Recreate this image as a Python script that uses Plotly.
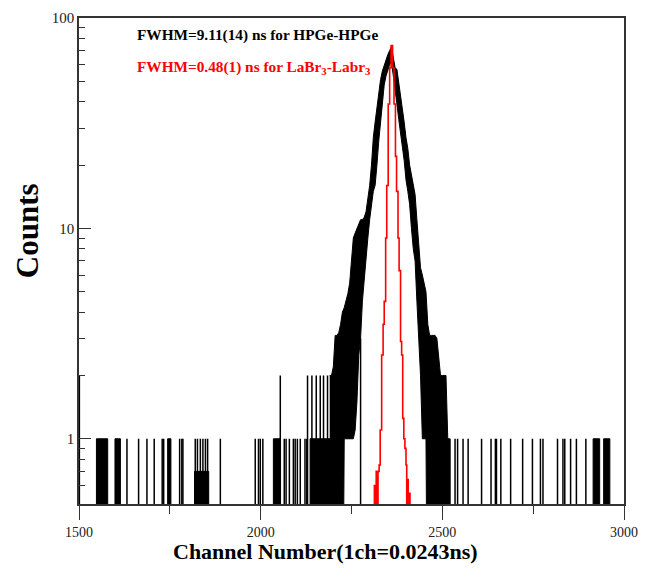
import plotly.graph_objects as go

# ---------------- data ----------------
# HPGe-HPGe (black) coincidence-time peak: lower / upper envelope of the
# fluctuating histogram, sampled every 5 channels
peak_ch = [2190, 2195, 2200, 2205, 2210, 2215, 2220, 2225, 2230, 2235,
           2240, 2245, 2250, 2255, 2260, 2265, 2270, 2275, 2280, 2285,
           2290, 2295, 2300, 2305, 2310, 2315, 2320, 2325, 2330, 2335,
           2340, 2345, 2350, 2355, 2360, 2365, 2370, 2375, 2380, 2385,
           2390, 2395, 2400, 2405, 2410, 2415, 2420, 2425, 2430, 2435,
           2440, 2445, 2450, 2455, 2460, 2465, 2470, 2475, 2480, 2485,
           2490, 2495, 2500, 2505, 2510, 2515, 2520]
peak_hi = [2, 2, 2.2, 3.1, 3.1, 3.2, 3.5, 4, 4.2, 4.5,
           4.9, 5.5, 7, 9, 9.5, 10, 10.5, 11, 11, 11.3,
           12, 14, 16, 20, 27, 32, 38, 45, 51, 56,
           60, 64, 67, 70, 73, 65, 58, 57, 50, 43,
           37, 32, 27, 24, 20, 18, 16, 14.5, 11, 8,
           6.5, 6, 5.5, 5, 3.5, 3.1, 3.1, 3.1, 3.1, 3,
           2.5, 2, 2, 2, 2, 1, 1]
peak_lo = [0, 0, 0, 0, 0, 0, 0, 0, 1, 1,
           1, 1, 1, 1, 1.1, 1.5, 2.5, 3, 4.5, 5.5,
           7, 9, 11, 13, 15, 16, 20, 26, 32, 40,
           48, 53, 57, 60, 62, 55, 45, 39, 33, 28,
           24, 21, 17, 15, 13, 10, 8, 7, 4.5, 3.3,
           2, 1, 1, 1, 0, 0, 0, 0, 0, 0,
           0, 0, 0, 0, 0, 0, 0]

# isolated background channels (black)
noise_ch = [1501, 1632, 1664, 1687, 1707, 1729, 1733, 1777, 1783, 1786,
            1820, 1826, 1834, 1841, 1848, 1854, 1889, 1985, 1994, 1999,
            2006, 2054, 2065, 2070, 2079, 2090, 2095, 2101, 2109, 2122,
            2127, 2129, 2141, 2153, 2164, 2173, 2184, 2275,
            2521, 2535, 2542, 2557, 2571, 2608, 2634, 2646, 2649, 2661,
            2688, 2721, 2748, 2770, 2777, 2817, 2832, 2837, 2853, 2869, 2895]
noise_cnt = [2, 1, 1, 1, 1, 1, 1, 1, 1, 1,
             1, 1, 1, 1, 1, 1, 1, 1, 1, 1,
             1, 2, 1, 1, 1, 1, 1, 1, 1, 1,
             1, 2, 2, 2, 2, 2, 2, 3,
             1, 1, 1, 1, 1, 1, 1, 1, 1, 1,
             1, 1, 1, 1, 1, 1, 1, 1, 1, 1, 1]

# dense runs of background channels (black)
block_start = [1548, 1599, 1744, 1818, 2035, 2136, 2915, 2944]
block_end = [1579, 1614, 1753, 1857, 2054, 2192, 2933, 2961]
block_cnt = [1, 1, 1, 0.7, 1, 1, 1, 1]

# LaBr3-LaBr3 (red) peak
red_ch = [2308, 2313, 2316, 2318, 2321, 2323, 2326, 2329, 2333, 2337,
          2340, 2344, 2347, 2351, 2355, 2359, 2363, 2367, 2371, 2374,
          2378, 2381, 2385, 2388, 2391, 2394, 2397, 2400, 2402, 2404,
          2406, 2408, 2411]
red_cnt = [0, 0.6, 0, 0.7, 0, 0.7, 0.75, 1.1, 2.5, 3.5,
           4.5, 9, 16, 39, 58, 74, 58, 39, 22, 15,
           9, 6.3, 2.9, 2.5, 1.25, 1, 0.9, 0.75, 0, 0.64,
           0, 0.55, 0]

x_ticks = [1500, 2000, 2500, 3000]
x_minor = [1750, 2250, 2750]
y_ticks = [1, 10, 100]
y_ticktext = ["1", "10", "100"]
y_minor = [0.6, 0.7, 0.8, 0.9, 2, 3, 4, 5, 6, 7, 8, 9,
           20, 30, 40, 50, 60, 70, 80, 90]

FLOOR = 0.05  # zero counts are sent below the visible log range


def nz(v):
    return v if v > 0 else FLOOR


SERIF = "Liberation Serif, Times New Roman, serif"

fig = go.Figure()

# dense background runs
bx, by = [], []
for s, e, c in zip(block_start, block_end, block_cnt):
    bx += [s, s, e, e, s, None]
    by += [FLOOR, c, c, FLOOR, FLOOR, None]
fig.add_trace(go.Scatter(x=bx, y=by, mode="lines", fill="toself",
                         fillcolor="black", line=dict(color="black", width=1),
                         hoverinfo="skip", showlegend=False))

# black peak band
px_ = peak_ch + peak_ch[::-1]
py_ = [nz(v) for v in peak_hi] + [nz(v) for v in peak_lo[::-1]]
fig.add_trace(go.Scatter(x=px_, y=py_, mode="lines", fill="toself",
                         fillcolor="black", line=dict(color="black", width=1.0),
                         hoverinfo="skip", showlegend=False))

# isolated channels
nx, ny = [], []
for c, v in zip(noise_ch, noise_cnt):
    nx += [c, c, None]
    ny += [FLOOR, v, None]
fig.add_trace(go.Scatter(x=nx, y=ny, mode="lines",
                         line=dict(color="black", width=1.5),
                         hoverinfo="skip", showlegend=False))

# red peak
fig.add_trace(go.Scatter(x=red_ch, y=[nz(v) for v in red_cnt], mode="lines",
                         line=dict(color="#ff0000", width=1.6, shape="hv"),
                         hoverinfo="skip", showlegend=False))

axis_col = "#333333"
fig.update_xaxes(range=[1500, 3000], tickvals=x_ticks,
                 ticks="outside", ticklen=14, tickwidth=1.3, tickcolor=axis_col,
                 minor=dict(tickvals=x_minor, ticks="outside", ticklen=8,
                            tickwidth=1.3, tickcolor=axis_col),
                 showline=True, linecolor=axis_col, linewidth=1.6, mirror=True,
                 showgrid=False, zeroline=False,
                 tickfont=dict(family=SERIF, size=14, color="#222"))
fig.update_yaxes(type="log", range=[-0.31, 2.0], tickvals=y_ticks,
                 ticktext=y_ticktext,
                 ticks="inside", ticklen=12, tickwidth=1.3, tickcolor=axis_col,
                 minor=dict(tickvals=y_minor, ticks="inside", ticklen=6,
                            tickwidth=1.3, tickcolor=axis_col),
                 showline=True, linecolor=axis_col, linewidth=1.6, mirror=True,
                 showgrid=False, zeroline=False,
                 tickfont=dict(family=SERIF, size=15, color="#222"))

annotations = [
    dict(text="<b>FWHM=9.11(14) ns for HPGe-HPGe</b>", x=0.102, y=0.964,
         xref="paper", yref="paper", xanchor="left", yanchor="middle",
         showarrow=False, font=dict(family=SERIF, size=15.3, color="black")),
    dict(text="<b>FWHM=0.48(1) ns for LaBr<sub>3</sub>-Labr<sub>3</sub></b>",
         x=0.102, y=0.898, xref="paper", yref="paper", xanchor="left",
         yanchor="middle", showarrow=False,
         font=dict(family=SERIF, size=15.3, color="#ff0000")),
    dict(text="<b>Channel Number(1ch=0.0243ns)</b>", x=0.453, y=-0.097,
         xref="paper", yref="paper", xanchor="center", yanchor="middle",
         showarrow=False, font=dict(family=SERIF, size=22, color="black")),
    dict(text="<b>Counts</b>", x=-0.093, y=0.562, textangle=-90,
         xref="paper", yref="paper", xanchor="center", yanchor="middle",
         showarrow=False, font=dict(family=SERIF, size=31, color="black")),
]

fig.update_layout(width=652, height=583,
                  margin=dict(l=79, r=28, t=10, b=79),
                  paper_bgcolor="white", plot_bgcolor="white",
                  showlegend=False, annotations=annotations)

fig.write_html("out.html")
